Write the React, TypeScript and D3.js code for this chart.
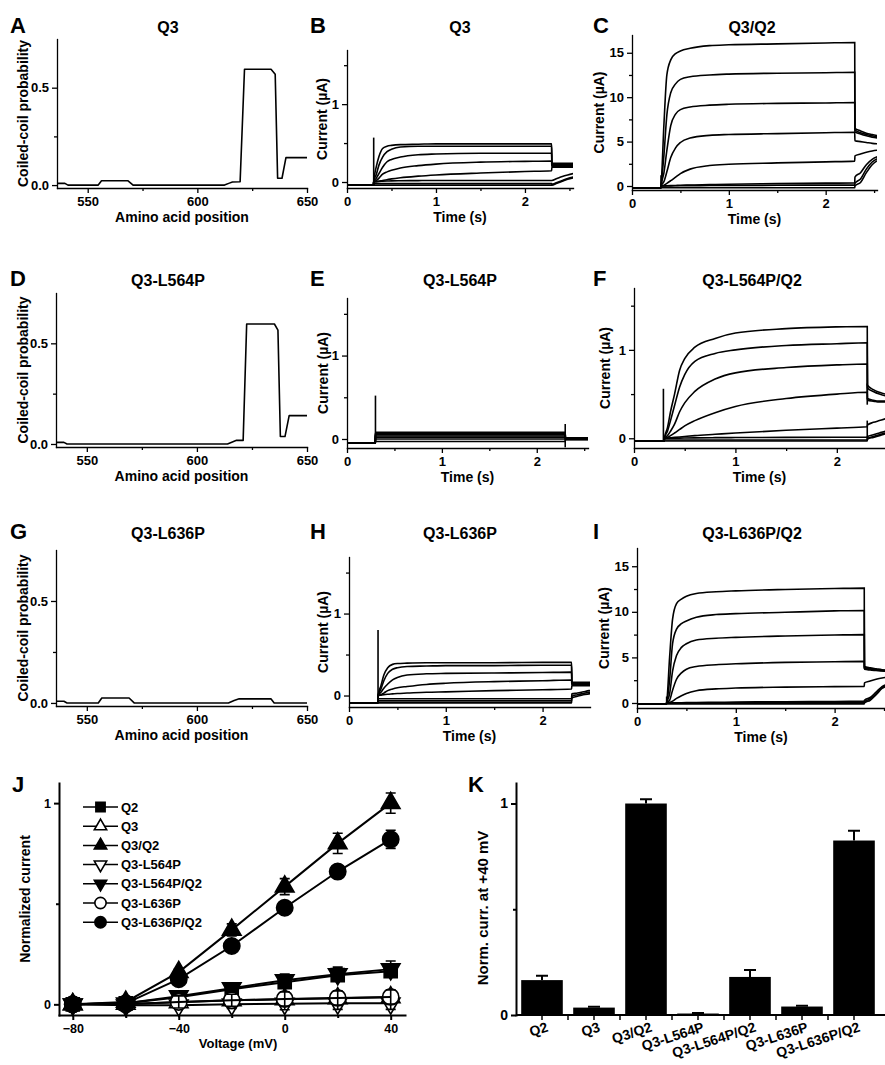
import React, { useEffect, useRef } from 'react';
import * as d3 from 'd3';

const FONT = '"Liberation Sans", Arial, Helvetica, sans-serif';

// ---------- coiled-coil probability, [amino acid position, probability]
const CC_Q3 = [
  [536, 0.009], [539.6, 0.009], [541, 0], [554.8, 0], [556.3, 0.022], [568.4, 0.022], [570.7, 0],
  [612.4, 0], [614.6, 0.01], [616, 0.016], [619.5, 0.017], [621.5, 0.595], [633.6, 0.595],
  [635.5, 0.569], [636.6, 0.035], [638.6, 0.035], [640.4, 0.141], [650, 0.141],
];
const CC_L564P = [
  [536, 0.008], [539.6, 0.008], [541, 0], [613.9, 0], [616.1, 0.01], [618, 0.018], [621, 0.018],
  [622.6, 0.596], [635.2, 0.596], [636.8, 0.566], [637.9, 0.037], [640, 0.037], [641.9, 0.141],
  [650, 0.141],
];
const CC_L636P = [
  [536, 0.008], [539.6, 0.008], [541, 0], [555.2, 0], [556.8, 0.024], [569.2, 0.024], [571.5, 0],
  [614.3, 0], [616.9, 0.012], [619.2, 0.02], [633.6, 0.02], [635.1, 0], [650, 0],
];

// ---------- current traces (µA); shared sampling times (s)
const HOLD_T = [0, 0.298];
const PULSE_T = [0.3, 0.33, 0.36, 0.4, 0.45, 0.5, 0.6, 0.8, 1.0, 1.5, 2.0, 2.3];
const TAIL_T = [2.302, 2.36, 2.42, 2.48, 2.55];

// B  Q3
const B_HOLD = -0.04;
const B_PULSE = [
  [0, 0.2, 0.33, 0.43, 0.46, 0.47, 0.48, 0.485, 0.49, 0.49, 0.49, 0.49],
  [0, 0.1, 0.22, 0.32, 0.39, 0.42, 0.45, 0.46, 0.46, 0.46, 0.46, 0.46],
  [0, 0.05, 0.11, 0.19, 0.26, 0.29, 0.32, 0.35, 0.36, 0.37, 0.37, 0.37],
  [0, 0.02, 0.05, 0.1, 0.13, 0.15, 0.18, 0.21, 0.23, 0.255, 0.265, 0.27],
  [0, 0.005, 0.01, 0.02, 0.03, 0.04, 0.055, 0.075, 0.09, 0.115, 0.135, 0.145],
  [0, 0.005, 0.008, 0.01, 0.012, 0.014, 0.016, 0.018, 0.02, 0.02, 0.02, 0.02],
  [-0.02, -0.02, -0.02, -0.02, -0.02, -0.02, -0.02, -0.02, -0.02, -0.02, -0.02, -0.02],
  [-0.04, -0.04, -0.04, -0.04, -0.04, -0.04, -0.04, -0.04, -0.04, -0.04, -0.04, -0.04],
];
const B_TAIL = [
  [0.24, 0.24, 0.24, 0.24, 0.24],
  [0.23, 0.23, 0.225, 0.225, 0.225],
  [0.215, 0.215, 0.21, 0.21, 0.21],
  [0.2, 0.2, 0.2, 0.2, 0.2],
  [0.19, 0.19, 0.19, 0.19, 0.19],
  [0.02, 0.045, 0.07, 0.09, 0.11],
  [-0.03, -0.005, 0.02, 0.045, 0.065],
  [-0.04, -0.015, 0.01, 0.035, 0.055],
];
const B_SPIKES = [[0.3, -0.04, 0.57]];

// C  Q3/Q2
const C_HOLD = -0.2;
const C_PULSE = [
  [0, 7, 12.5, 14.2, 14.9, 15.2, 15.5, 15.8, 15.9, 16.0, 16.1, 16.15],
  [0, 3.5, 8, 10.5, 11.5, 12, 12.3, 12.5, 12.6, 12.7, 12.75, 12.8],
  [0, 1.5, 4, 6.8, 8.1, 8.6, 8.9, 9.1, 9.2, 9.3, 9.35, 9.4],
  [0, 0.5, 1.6, 3.2, 4.3, 4.9, 5.4, 5.7, 5.8, 5.9, 6.0, 6.05],
  [0, 0.1, 0.3, 0.6, 1.0, 1.4, 1.9, 2.3, 2.45, 2.6, 2.72, 2.8],
  [0, 0, 0.02, 0.04, 0.06, 0.08, 0.1, 0.15, 0.2, 0.27, 0.32, 0.35],
  [0, 0, 0, 0.01, 0.02, 0.03, 0.04, 0.05, 0.06, 0.08, 0.1, 0.1],
  [-0.2, -0.2, -0.2, -0.2, -0.2, -0.2, -0.2, -0.2, -0.2, -0.2, -0.2, -0.2],
];
const C_TAIL = [
  [6.5, 6.2, 5.95, 5.8, 5.65],
  [6.3, 6.0, 5.8, 5.65, 5.5],
  [6.1, 5.85, 5.65, 5.5, 5.4],
  [5.1, 5.0, 4.9, 4.8, 4.75],
  [3.4, 3.6, 3.8, 3.95, 4.05],
  [1.0, 1.5, 2.4, 3.0, 3.35],
  [0.3, 0.8, 1.9, 2.7, 3.15],
  [0.0, 0.4, 1.5, 2.4, 2.95],
];
const C_SPIKES = [[0.3, -0.2, 1.2]];

// E  Q3-L564P
const E_HOLD = -0.05;
const E_PULSE = [
  [0.08, 0.08, 0.08, 0.08, 0.08, 0.08, 0.08, 0.08, 0.08, 0.08, 0.08, 0.08],
  [0.07, 0.07, 0.07, 0.07, 0.07, 0.07, 0.07, 0.07, 0.07, 0.07, 0.07, 0.07],
  [0.06, 0.06, 0.06, 0.06, 0.06, 0.06, 0.06, 0.06, 0.06, 0.06, 0.06, 0.06],
  [0.05, 0.05, 0.05, 0.05, 0.05, 0.05, 0.05, 0.05, 0.05, 0.05, 0.05, 0.05],
  [0.035, 0.035, 0.035, 0.035, 0.035, 0.035, 0.035, 0.035, 0.035, 0.035, 0.035, 0.035],
  [0.02, 0.02, 0.02, 0.02, 0.02, 0.02, 0.02, 0.02, 0.02, 0.02, 0.02, 0.02],
  [0, 0, 0, 0, 0, 0, 0, 0, 0, 0, 0, 0],
  [-0.03, -0.03, -0.03, -0.03, -0.03, -0.03, -0.03, -0.03, -0.03, -0.03, -0.03, -0.03],
];
const E_TAIL = [
  [0.015, 0.015, 0.015, 0.015, 0.015],
  [0.012, 0.012, 0.012, 0.012, 0.012],
  [0.01, 0.01, 0.01, 0.01, 0.01],
  [0.006, 0.006, 0.006, 0.006, 0.006],
  [0.003, 0.003, 0.003, 0.003, 0.003],
  [0, 0, 0, 0, 0],
  [-0.005, -0.005, -0.005, -0.005, -0.005],
  [-0.01, -0.01, -0.01, -0.01, -0.01],
];
const E_SPIKES = [[0.3, -0.05, 0.52], [2.3, -0.1, 0.18]];

// F  Q3-L564P/Q2
const F_HOLD = -0.03;
const F_PULSE = [
  [0, 0.12, 0.3, 0.5, 0.77, 0.9, 1.03, 1.13, 1.19, 1.24, 1.26, 1.265],
  [0, 0.08, 0.2, 0.37, 0.58, 0.72, 0.87, 0.96, 1.0, 1.05, 1.07, 1.08],
  [0, 0.03, 0.08, 0.16, 0.3, 0.4, 0.53, 0.67, 0.74, 0.8, 0.83, 0.84],
  [0, 0.01, 0.03, 0.06, 0.1, 0.14, 0.2, 0.29, 0.36, 0.45, 0.5, 0.52],
  [0, 0.003, 0.006, 0.01, 0.015, 0.02, 0.03, 0.045, 0.06, 0.09, 0.115, 0.13],
  [0, 0, 0, 0, 0.002, 0.003, 0.005, 0.007, 0.008, 0.01, 0.012, 0.013],
  [-0.02, -0.02, -0.02, -0.02, -0.02, -0.02, -0.02, -0.02, -0.02, -0.02, -0.02, -0.02],
  [-0.03, -0.03, -0.03, -0.03, -0.03, -0.03, -0.03, -0.03, -0.03, -0.03, -0.03, -0.03],
];
const F_TAIL = [
  [0.6, 0.55, 0.52, 0.5, 0.49],
  [0.57, 0.53, 0.5, 0.48, 0.47],
  [0.45, 0.43, 0.42, 0.42, 0.42],
  [0.43, 0.42, 0.41, 0.41, 0.41],
  [0.15, 0.18, 0.2, 0.22, 0.23],
  [0.02, 0.04, 0.06, 0.08, 0.09],
  [0.0, 0.02, 0.04, 0.06, 0.07],
  [-0.01, 0.01, 0.03, 0.05, 0.06],
];
const F_SPIKES = [[0.29, -0.03, 0.56], [2.3, 0.38, 0.62], [2.3, -0.02, 0.2]];

// H  Q3-L636P
const H_HOLD = -0.09;
const H_PULSE = [
  [0, 0.12, 0.25, 0.34, 0.38, 0.39, 0.395, 0.4, 0.4, 0.4, 0.404, 0.405],
  [0, 0.08, 0.18, 0.27, 0.32, 0.34, 0.355, 0.36, 0.365, 0.365, 0.37, 0.37],
  [0, 0.04, 0.09, 0.14, 0.19, 0.22, 0.25, 0.265, 0.27, 0.275, 0.28, 0.285],
  [0, 0.01, 0.03, 0.06, 0.08, 0.095, 0.11, 0.135, 0.15, 0.17, 0.18, 0.19],
  [0, 0.005, 0.01, 0.015, 0.02, 0.025, 0.03, 0.04, 0.045, 0.06, 0.07, 0.08],
  [-0.04, -0.04, -0.04, -0.04, -0.04, -0.04, -0.04, -0.04, -0.04, -0.04, -0.04, -0.04],
  [-0.065, -0.065, -0.065, -0.065, -0.065, -0.065, -0.065, -0.065, -0.065, -0.065, -0.065, -0.065],
  [-0.09, -0.09, -0.09, -0.09, -0.09, -0.09, -0.09, -0.09, -0.09, -0.09, -0.09, -0.09],
];
const H_TAIL = [
  [0.16, 0.16, 0.16, 0.16, 0.16],
  [0.15, 0.15, 0.15, 0.15, 0.15],
  [0.14, 0.14, 0.14, 0.14, 0.14],
  [0.13, 0.13, 0.13, 0.13, 0.13],
  [0.12, 0.12, 0.12, 0.12, 0.12],
  [0.02, 0.03, 0.045, 0.06, 0.07],
  [-0.01, 0.01, 0.025, 0.04, 0.05],
  [-0.03, -0.01, 0.01, 0.02, 0.03],
];
const H_SPIKES = [[0.3, -0.09, 0.8]];

// I  Q3-L636P/Q2
const I_HOLD = -0.1;
const I_PULSE = [
  [0, 5, 9.2, 10.9, 11.4, 11.7, 12.0, 12.2, 12.3, 12.45, 12.55, 12.6],
  [0, 2.5, 6.5, 8.1, 8.7, 9.0, 9.4, 9.7, 9.8, 9.95, 10.1, 10.15],
  [0, 1.0, 3.5, 5.2, 6.1, 6.5, 6.9, 7.1, 7.2, 7.35, 7.45, 7.5],
  [0, 0.3, 1.4, 2.6, 3.3, 3.7, 4.0, 4.2, 4.3, 4.45, 4.52, 4.56],
  [0, 0.05, 0.2, 0.5, 0.8, 1.05, 1.35, 1.55, 1.64, 1.74, 1.8, 1.82],
  [0, 0, 0.01, 0.02, 0.03, 0.04, 0.06, 0.08, 0.1, 0.14, 0.17, 0.2],
  [0, 0, 0, 0, 0.005, 0.01, 0.015, 0.02, 0.03, 0.04, 0.05, 0.05],
  [-0.1, -0.1, -0.1, -0.1, -0.1, -0.1, -0.1, -0.1, -0.1, -0.1, -0.1, -0.1],
];
const I_TAIL = [
  [4.0, 3.85, 3.75, 3.65, 3.6],
  [3.9, 3.78, 3.68, 3.6, 3.55],
  [3.8, 3.7, 3.62, 3.55, 3.5],
  [3.7, 3.62, 3.56, 3.5, 3.45],
  [2.2, 2.4, 2.6, 2.75, 2.85],
  [0.3, 0.6, 1.2, 1.8, 2.1],
  [0.15, 0.45, 1.0, 1.7, 2.0],
  [0.0, 0.3, 0.9, 1.6, 1.9],
];
const I_SPIKES = [[0.3, -0.1, 0.7]];

// ---------- J: normalized I-V
const J_V = [-80, -60, -40, -20, 0, 20, 40];
const J_NAMES = ['Q2', 'Q3', 'Q3/Q2', 'Q3-L564P', 'Q3-L564P/Q2', 'Q3-L636P', 'Q3-L636P/Q2'];
const J_SHAPES = ['square', 'triangle', 'triangle', 'down', 'down', 'circle', 'circle'];
const J_FILLED = [true, false, true, false, true, false, true];
const J_MEAN = [
  [0, 0.005, 0.035, 0.075, 0.11, 0.145, 0.165],
  [0, 0.002, 0.01, 0.02, 0.025, 0.03, 0.035],
  [0, 0.012, 0.16, 0.37, 0.585, 0.8, 1.0],
  [0, -0.005, -0.005, 0, 0.003, 0.005, 0.005],
  [0, 0.005, 0.04, 0.08, 0.12, 0.15, 0.175],
  [0, 0, 0.012, 0.02, 0.027, 0.032, 0.037],
  [0, 0.005, 0.125, 0.29, 0.48, 0.66, 0.82],
];
const J_SEM = [
  [0.003, 0.003, 0.01, 0.015, 0.02, 0.02, 0.02],
  [0.002, 0.002, 0.005, 0.005, 0.005, 0.005, 0.005],
  [0.003, 0.005, 0.015, 0.03, 0.04, 0.05, 0.05],
  [0.002, 0.005, 0.01, 0.02, 0.03, 0.03, 0.03],
  [0.003, 0.005, 0.01, 0.02, 0.03, 0.035, 0.04],
  [0.003, 0.005, 0.03, 0.03, 0.035, 0.035, 0.035],
  [0.003, 0.005, 0.01, 0.02, 0.02, 0.03, 0.045],
];

// ---------- K: normalized current at +40 mV
const K_CATS = ['Q2', 'Q3', 'Q3/Q2', 'Q3-L564P', 'Q3-L564P/Q2', 'Q3-L636P', 'Q3-L636P/Q2'];
const K_VALS = [0.165, 0.035, 1.0, 0.007, 0.18, 0.04, 0.825];
const K_ERR = [0.021, 0.004, 0.02, 0.003, 0.033, 0.004, 0.046];

const styleAxis = (ax, size, width) => {
  ax.attr('font-size', size).attr('font-family', FONT).attr('font-weight', 'bold');
  ax.selectAll('line').attr('stroke-width', width);
  ax.select('.domain').attr('stroke-width', width).attr('stroke-linecap', 'square');
  ax.selectAll('text').attr('fill', '#000');
};

const drawAxes = (g, x, y, o) => {
  const xa = g.append('g').attr('transform', `translate(0,${o.yBot})`);
  xa.call(d3.axisBottom(x).tickValues(o.xMajor).tickSize(5).tickSizeOuter(0).tickPadding(4).tickFormat(o.xFmt || d3.format('d')));
  styleAxis(xa, o.fs || 13, o.lw || 1.3);
  const xm = g.append('g').attr('transform', `translate(0,${o.yBot})`);
  xm.call(d3.axisBottom(x).tickValues(o.xMinor).tickSize(3).tickSizeOuter(0).tickFormat(() => ''));
  xm.select('.domain').remove();
  xm.selectAll('line').attr('stroke-width', o.lw || 1.3);

  const ya = g.append('g').attr('transform', `translate(${o.x0},0)`);
  ya.call(d3.axisLeft(y).tickValues(o.yMajor).tickSize(5).tickSizeOuter(0).tickPadding(3).tickFormat(o.yFmt || d3.format('d')));
  styleAxis(ya, o.fs || 13, o.lw || 1.3);
  const ym = g.append('g').attr('transform', `translate(${o.x0},0)`);
  ym.call(d3.axisLeft(y).tickValues(o.yMinor).tickSize(3).tickSizeOuter(0).tickFormat(() => ''));
  ym.select('.domain').remove();
  ym.selectAll('line').attr('stroke-width', o.lw || 1.3);
};

const label = (g, txt, x, y, size, opts = {}) =>
  g.append('text').attr('x', x).attr('y', y).attr('font-size', size)
    .attr('text-anchor', opts.anchor || 'middle').attr('transform', opts.transform || null).text(txt);

const COL = [
  { letterX: 10, titleX: 168 },
  { letterX: 310, titleX: 460 },
  { letterX: 593, titleX: 752 },
];
const ROW_BASE = [33, 286, 539];

const App = () => {
  const svgRef = useRef(null);

  useEffect(() => {
    const svg = d3.select(svgRef.current);
    svg.selectAll('*').remove();
    svg.append('rect').attr('width', 885).attr('height', 1065).attr('fill', '#fff');
    const root = svg.append('g').attr('font-family', FONT).attr('font-weight', 'bold').attr('fill', '#000');

    const header = (letter, title, col, row) => {
      label(root, letter, COL[col].letterX, ROW_BASE[row], 22, { anchor: 'start' });
      label(root, title, COL[col].titleX, ROW_BASE[row], 16);
    };
    const yTitle = (txt, cx, cy, size) =>
      label(root, txt, 0, 0, size, { transform: `translate(${cx + size * 0.36},${cy}) rotate(-90)` });

    // ---- coiled-coil panels
    const ccPanels = [
      { letter: 'A', title: 'Q3', data: CC_Q3, row: 0, x0: 57, yTop: 39, yBot: 188 },
      { letter: 'D', title: 'Q3-L564P', data: CC_L564P, row: 1, x0: 56, yTop: 293, yBot: 447 },
      { letter: 'G', title: 'Q3-L636P', data: CC_L636P, row: 2, x0: 56, yTop: 550, yBot: 706 },
    ];
    ccPanels.forEach((p) => {
      const x = d3.scaleLinear().domain([536, 650]).range([p.x0, 307]);
      const y = d3.scaleLinear().domain([-0.015, 0.75]).range([p.yBot, p.yTop]);
      const g = root.append('g');
      drawAxes(g, x, y, {
        x0: p.x0, yBot: p.yBot, xMajor: [550, 600, 650], xMinor: [575, 625],
        yMajor: [0, 0.5], yMinor: [0.25], yFmt: d3.format('.1f'),
      });
      g.append('path')
        .attr('d', d3.line().x((d) => x(d[0])).y((d) => y(d[1]))(p.data))
        .attr('fill', 'none').attr('stroke', '#000').attr('stroke-width', 1.6).attr('stroke-linejoin', 'round');
      header(p.letter, p.title, 0, p.row);
      label(root, 'Amino acid position', (p.x0 + 307) / 2, p.yBot + 34, 14);
      yTitle('Coiled-coil probability', 23, (p.yTop + p.yBot) / 2, 14);
    });

    // ---- current trace panels
    const uA = 'Current (\u00B5A)';
    const small = { yMajor: [0, 1], yMinor: [0.5, 1.5] };
    const big = { yMajor: [0, 5, 10, 15], yMinor: [2.5, 7.5, 12.5] };
    const tracePanels = [
      { id: 'B', title: 'Q3', col: 1, row: 0, x0: 347, x1: 573, yTop: 50, yBot: 188, xMax: 2.54, yDom: [-0.077, 1.695], yLabX: 322, ...small, hold: B_HOLD, pulse: B_PULSE, tail: B_TAIL, spikes: B_SPIKES },
      { id: 'C', title: 'Q3/Q2', col: 2, row: 0, x0: 632, x1: 877, yTop: 35, yBot: 190, xMax: 2.53, yDom: [-0.45, 17], yLabX: 599, ...big, hold: C_HOLD, pulse: C_PULSE, tail: C_TAIL, spikes: C_SPIKES },
      { id: 'E', title: 'Q3-L564P', col: 1, row: 1, x0: 347, x1: 588, yTop: 298, yBot: 448, xMax: 2.54, yDom: [-0.108, 1.69], yLabX: 323, ...small, hold: E_HOLD, pulse: E_PULSE, tail: E_TAIL, spikes: E_SPIKES },
      { id: 'F', title: 'Q3-L564P/Q2', col: 2, row: 1, x0: 634, x1: 885, yTop: 288, yBot: 448, xMax: 2.475, yDom: [-0.11, 1.7], yLabX: 605, ...small, hold: F_HOLD, pulse: F_PULSE, tail: F_TAIL, spikes: F_SPIKES },
      { id: 'H', title: 'Q3-L636P', col: 1, row: 2, x0: 349, x1: 590, yTop: 557, yBot: 707, xMax: 2.49, yDom: [-0.14, 1.69], yLabX: 323, ...small, hold: H_HOLD, pulse: H_PULSE, tail: H_TAIL, spikes: H_SPIKES },
      { id: 'I', title: 'Q3-L636P/Q2', col: 2, row: 2, x0: 637, x1: 885, yTop: 548, yBot: 708, xMax: 2.51, yDom: [-0.55, 17], yLabX: 604, ...big, hold: I_HOLD, pulse: I_PULSE, tail: I_TAIL, spikes: I_SPIKES },
    ];
    const defs = svg.append('defs');
    tracePanels.forEach((p) => {
      const x = d3.scaleLinear().domain([0, p.xMax]).range([p.x0, p.x1]);
      const y = d3.scaleLinear().domain(p.yDom).range([p.yBot, p.yTop]);
      defs.append('clipPath').attr('id', `clip-${p.id}`)
        .append('rect').attr('x', p.x0).attr('y', p.yTop).attr('width', p.x1 - p.x0).attr('height', p.yBot - p.yTop);
      const g = root.append('g');
      const plot = g.append('g').attr('clip-path', `url(#clip-${p.id})`);
      const line = d3.line().x((d) => x(d[0])).y((d) => y(d[1])).curve(d3.curveMonotoneX);
      p.pulse.forEach((vals, i) => {
        const pts = [
          ...HOLD_T.map((t) => [t, p.hold]),
          ...PULSE_T.map((t, j) => [t, vals[j]]),
          ...TAIL_T.map((t, j) => [t, p.tail[i][j]]),
        ];
        plot.append('path').attr('d', line(pts))
          .attr('fill', 'none').attr('stroke', '#000').attr('stroke-width', 1.6);
      });
      p.spikes.forEach((s) => {
        plot.append('line').attr('x1', x(s[0])).attr('x2', x(s[0])).attr('y1', y(s[1])).attr('y2', y(s[2]))
          .attr('stroke', '#000').attr('stroke-width', 1.6);
      });
      drawAxes(g, x, y, {
        x0: p.x0, yBot: p.yBot, xMajor: [0, 1, 2], xMinor: [0.5, 1.5, 2.5].filter((v) => v <= p.xMax),
        yMajor: p.yMajor, yMinor: p.yMinor,
      });
      header(p.id, p.title, p.col, p.row);
      label(root, 'Time (s)', (p.x0 + p.x1) / 2, p.yBot + 34, 14);
      yTitle(uA, p.yLabX, (p.yTop + p.yBot) / 2, 14);
    });

    // ---- J: I-V curves
    const xJ = d3.scaleLinear().domain([-85.2, 45.4]).range([59, 405]);
    const yJ = d3.scaleLinear().domain([-0.053, 1.1]).range([1015, 783]);
    const gJ = root.append('g');
    const symType = { square: d3.symbolSquare, triangle: d3.symbolTriangle, down: d3.symbolTriangle, circle: d3.symbolCircle };
    const bigSize = { square: 170, triangle: 150, down: 150, circle: 210 };
    const legSize = { square: 85, triangle: 66, down: 66, circle: 100 };
    const marker = (g, shape, filled, cx, cy, size) =>
      g.append('path')
        .attr('d', d3.symbol().type(symType[shape]).size(size)())
        .attr('transform', `translate(${cx},${cy})${shape === 'down' ? ' rotate(180)' : ''}`)
        .attr('fill', filled ? '#000' : '#fff').attr('stroke', '#000').attr('stroke-width', 1.6);

    J_NAMES.forEach((name, s) => {
      const pts = J_V.map((v, i) => [v, J_MEAN[s][i]]);
      pts.forEach((d) => marker(gJ, J_SHAPES[s], J_FILLED[s], xJ(d[0]), yJ(d[1]), bigSize[J_SHAPES[s]]));
      gJ.append('path').attr('d', d3.line().x((d) => xJ(d[0])).y((d) => yJ(d[1]))(pts))
        .attr('fill', 'none').attr('stroke', '#000').attr('stroke-width', 2);
      J_V.forEach((v, i) => {
        const m = J_MEAN[s][i];
        const e = J_SEM[s][i];
        const cx = xJ(v);
        gJ.append('path')
          .attr('d', `M${cx},${yJ(m - e)}V${yJ(m + e)}M${cx - 5},${yJ(m - e)}h10M${cx - 5},${yJ(m + e)}h10`)
          .attr('fill', 'none').attr('stroke', '#000').attr('stroke-width', 1.6);
      });
    });
    drawAxes(gJ, xJ, yJ, {
      x0: 59, yBot: 1015, xMajor: [-80, -40, 0, 40], xMinor: [-60, -20, 20],
      yMajor: [0, 1], yMinor: [0.5], fs: 12.5, lw: 2,
    });
    // legend
    J_NAMES.forEach((name, s) => {
      const ly = 807 + s * 19.2;
      gJ.append('line').attr('x1', 83).attr('x2', 118).attr('y1', ly).attr('y2', ly)
        .attr('stroke', '#000').attr('stroke-width', 1.5);
      marker(gJ, J_SHAPES[s], J_FILLED[s], 100.5, ly, legSize[J_SHAPES[s]]);
      label(gJ, name, 121, ly + 4.5, 13, { anchor: 'start' });
    });
    label(root, 'J', 12, 792, 22, { anchor: 'start' });
    label(root, 'Voltage (mV)', 238, 1048, 13);
    yTitle('Normalized current', 25, 899, 14);

    // ---- K: bar chart at +40 mV
    const xK = d3.scaleBand().domain(K_CATS).range([516, 880]).paddingInner(0.2).paddingOuter(0.1);
    const yK = d3.scaleLinear().domain([0, 1.097]).range([1015, 783]);
    const gK = root.append('g');
    gK.selectAll('rect.bar').data(K_CATS).enter().append('rect')
      .attr('x', (d) => xK(d)).attr('width', xK.bandwidth())
      .attr('y', (d, i) => yK(K_VALS[i])).attr('height', (d, i) => yK(0) - yK(K_VALS[i]))
      .attr('fill', '#000');
    K_CATS.forEach((c, i) => {
      const cx = xK(c) + xK.bandwidth() / 2;
      const top = yK(K_VALS[i] + K_ERR[i]);
      gK.append('path').attr('d', `M${cx},${yK(K_VALS[i])}V${top}M${cx - 6},${top}h12`)
        .attr('fill', 'none').attr('stroke', '#000').attr('stroke-width', 2);
    });
    const ticksK = K_CATS.map((c) => xK(c) + xK.bandwidth() / 2);
    const step = xK.step();
    const kAxis = gK.append('g');
    kAxis.append('line').attr('x1', 516).attr('x2', 885).attr('y1', 1015).attr('y2', 1015)
      .attr('stroke', '#000').attr('stroke-width', 2);
    [...ticksK, ...ticksK.slice(0, -1).map((t) => t + step / 2)].forEach((t) => {
      kAxis.append('line').attr('x1', t).attr('x2', t).attr('y1', 1015).attr('y2', 1020)
        .attr('stroke', '#000').attr('stroke-width', 1.5);
    });
    K_CATS.forEach((c, i) => {
      label(gK, c, 0, 0, 14, { anchor: 'end', transform: `translate(${ticksK[i] + 7},${1031}) rotate(-18)` });
    });
    const ya = gK.append('g').attr('transform', 'translate(516,0)');
    ya.call(d3.axisLeft(yK).tickValues([0, 1]).tickSize(5).tickSizeOuter(0).tickPadding(3).tickFormat(d3.format('d')));
    styleAxis(ya, 14, 2);
    const ym = gK.append('g').attr('transform', 'translate(516,0)');
    ym.call(d3.axisLeft(yK).tickValues([0.5]).tickSize(3).tickFormat(() => ''));
    ym.select('.domain').remove();
    ym.selectAll('line').attr('stroke-width', 2);
    label(root, 'K', 468, 792, 22, { anchor: 'start' });
    yTitle('Norm. curr. at +40 mV', 483, 908, 15);
  }, []);

  return (
    <svg ref={svgRef} width={885} height={1065} style={{ position: 'absolute', left: 0, top: 0 }} />
  );
};

export default App;
